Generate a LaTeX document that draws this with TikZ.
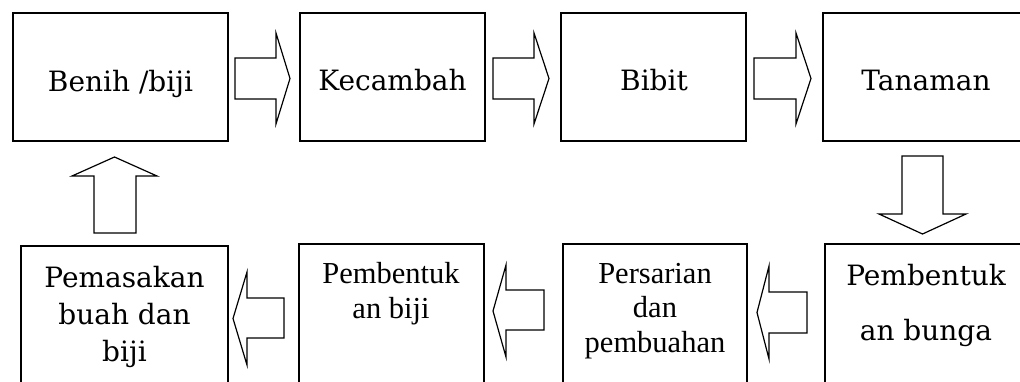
\documentclass[tikz,border=0pt]{standalone}
\usepackage{fontspec}
\setmainfont{Liberation Serif}
\newfontfamily\camb{DejaVu Serif}
\newfontfamily\tms{Liberation Serif}
\begin{document}
\begin{tikzpicture}[x=1pt,y=-1pt,
  box/.style={draw,line width=1.3pt,inner sep=0pt},
  blk/.style={draw,line width=1.2pt,line join=miter,fill=white},
  lbl/.style={inner sep=0pt,align=center,font=\camb\fontsize{28}{37}\selectfont},
  lbt/.style={inner sep=0pt,align=center,font=\tms\fontsize{30.5}{34.5}\selectfont}]
\clip (0,0) rectangle (1020,381);
% top row boxes
\draw[box] (13,13) rectangle (228,141) node[pos=.5] (b1) {};
\draw[box] (300,13) rectangle (485,141) node[pos=.5] (b2) {};
\draw[box] (561,13) rectangle (746,141) node[pos=.5] (b3) {};
\draw[box] (823,13) rectangle (1029,141) node[pos=.5] (b4) {};
% bottom row boxes
\draw[box] (825,244) rectangle (1030,400) node[pos=.5] (b5) {};
\draw[box] (563,244) rectangle (747,400) node[pos=.5] (b6) {};
\draw[box] (299,244) rectangle (484,400) node[pos=.5] (b7) {};
\draw[box] (21,246) rectangle (228,400) node[pos=.5] (b8) {};
% labels (base anchor = baseline of last line)
\node[lbl,anchor=base] (t1) at (120.5,91) {Benih /biji};
\node[lbl,anchor=base] (t2) at (392.5,90) {Kecambah};
\node[lbl,anchor=base] (t3) at (654,90) {Bibit};
\node[lbl,anchor=base] (t4) at (926,90) {Tanaman};
\node[lbl,anchor=base,font=\camb\fontsize{28}{55}\selectfont] (t5) at (926,340) {Pembentuk\\an bunga};
\node[lbt,anchor=base] (t6) at (655,352) {Persarian\\dan\\pembuahan};
\node[lbt,anchor=base] (t7) at (391,318) {Pembentuk\\an biji};
\node[lbl,anchor=base] (t8) at (124.5,361) {Pemasakan\\buah dan\\biji};
% right block arrows
\draw[blk] (235,58) -- (276,58) -- (276,33) -- (290,78.5) -- (276,124) -- (276,99) -- (235,99) -- cycle;
\draw[blk] (493,58) -- (534,58) -- (534,33) -- (549,78.5) -- (534,124) -- (534,99) -- (493,99) -- cycle;
\draw[blk] (754,58) -- (796,58) -- (796,33) -- (811,78.5) -- (796,124) -- (796,99) -- (754,99) -- cycle;
% down arrow
\draw[blk] (902,156) -- (943,156) -- (943,214) -- (966,214) -- (922.5,234) -- (879,214) -- (902,214) -- cycle;
% left block arrows
\draw[blk] (807,292) -- (769,292) -- (769,266) -- (757,312.5) -- (769,359) -- (769,333) -- (807,333) -- cycle;
\draw[blk] (544,290) -- (506,290) -- (506,265) -- (493,311) -- (506,357) -- (506,330) -- (544,330) -- cycle;
\draw[blk] (284,298) -- (247,298) -- (247,272) -- (233,318.5) -- (247,365) -- (247,338) -- (284,338) -- cycle;
% up arrow
\draw[blk] (94,233) -- (94,176) -- (72,176) -- (114.5,157) -- (157,176) -- (136,176) -- (136,233) -- cycle;
\end{tikzpicture}
\end{document}
